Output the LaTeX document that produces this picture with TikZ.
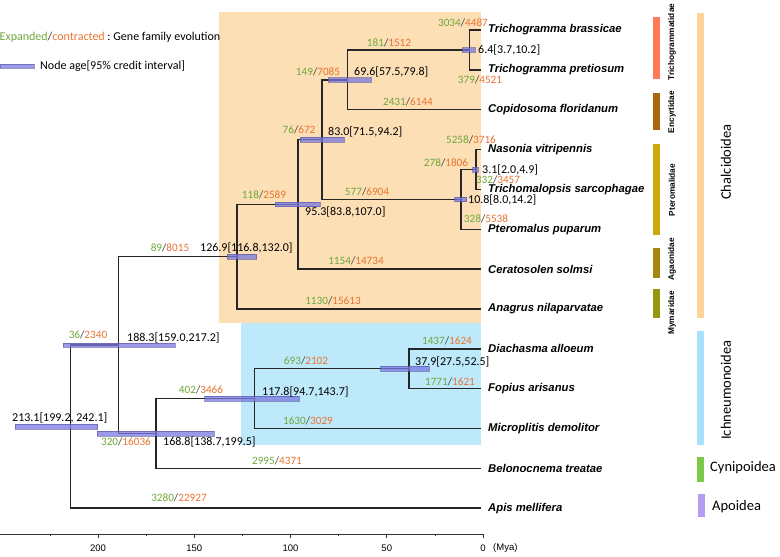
\documentclass[tikz,border=0pt]{standalone}
\usepackage{fontspec}
\setmainfont{Carlito}
\newfontfamily\arialfont{Liberation Sans}
\usetikzlibrary{positioning,calc}

\definecolor{expgreen}{HTML}{6EA83A}
\definecolor{conorange}{HTML}{E8732F}
\definecolor{chalfill}{HTML}{FDDFB6}
\definecolor{ichfill}{HTML}{BDE9FB}
\definecolor{barblue}{HTML}{7878E0}
\definecolor{trichcol}{HTML}{FF7A58}
\definecolor{encycol}{HTML}{A9680E}
\definecolor{pterocol}{HTML}{CCA90E}
\definecolor{agaocol}{HTML}{A4870F}
\definecolor{mymacol}{HTML}{97970F}
\definecolor{chalbar}{HTML}{FFD49A}
\definecolor{ichbar}{HTML}{A9E1FB}
\definecolor{cynicol}{HTML}{7CC84A}
\definecolor{apocol}{HTML}{B49CF2}

\newcommand\gfe[2]{\textcolor{expgreen}{#1}/\textcolor{conorange}{#2}}

\begin{document}
\begin{tikzpicture}[x=1pt,y=-1pt]
\tikzset{branch/.style = {draw=black!85, line width=1.5pt},
  agebox/.style = {fill=barblue, fill opacity=.75, draw=barblue!70!black, draw opacity=.6, line width=.4pt},
  species/.style = {anchor=west, inner sep=0pt, font=\arialfont\bfseries\itshape\fontsize{11.3}{13}\selectfont},
  gain/.style = {inner sep=0pt, text=black!75, font=\fontsize{11.2}{13}\selectfont},
  age/.style = {anchor=west, inner sep=0pt, font=\fontsize{12}{14}\selectfont},
  family/.style = {rotate=90, inner sep=0pt, font=\arialfont\bfseries\fontsize{8.3}{10}\selectfont},
  superfam/.style = {inner sep=0pt, font=\fontsize{14.5}{16}\selectfont},
  ticklab/.style = {inner sep=0pt, font=\arialfont\fontsize{9.5}{11}\selectfont}}
\def\zero{482}
\def\scl{1.93}
\newcommand\agebar[3]{\draw[agebox] ({\zero-\scl*#3},{#1-2.3}) rectangle ({\zero-\scl*#2},{#1+2.3});}
\useasboundingbox (0,0) rectangle (780,557);

\fill[chalfill] (219,12) rectangle (481,323);
\fill[ichfill] (241,323) rectangle (481,445);

\foreach \sp [count=\i from 0] in {Trichogramma brassicae,Trichogramma pretiosum,Copidosoma floridanum,Nasonia vitripennis,Trichomalopsis sarcophagae,Pteromalus puparum,Ceratosolen solmsi,Anagrus nilaparvatae,Diachasma alloeum,Fopius arisanus,Microplitis demolitor,Belonocnema treatae,Apis mellifera} {
  \coordinate (t\i) at (481,{30+39.85*\i});
  \node[species] (s\i) at (488,{30+39.85*\i}) {\sp};
}

\coordinate (n6) at ({\zero-\scl*6.4},49.93);
\coordinate (n70) at ({\zero-\scl*69.6},79.81);
\coordinate (n3) at ({\zero-\scl*3.1},169.48);
\coordinate (n11) at ({\zero-\scl*10.8},199.36);
\coordinate (n83) at ({\zero-\scl*83.0},139.59);
\coordinate (n95) at ({\zero-\scl*95.3},204.34);
\coordinate (n127) at ({\zero-\scl*126.9},256.65);
\coordinate (n38) at ({\zero-\scl*37.9},368.73);
\coordinate (n118) at ({\zero-\scl*117.8},398.61);
\coordinate (n169) at ({\zero-\scl*168.8},433.48);
\coordinate (n188) at ({\zero-\scl*188.3},345.07);
\coordinate (root) at ({\zero-\scl*213.1},426.63);

\draw[branch] (t0) -| (n6) |- (t1);
\draw[branch] (n6) -| (n70) |- (t2);
\draw[branch] (t3) -| (n3) |- (t4);
\draw[branch] (n3) -| (n11) |- (t5);
\draw[branch] (n70) -| (n83) |- (n11);
\draw[branch] (n83) -| (n95) |- (t6);
\draw[branch] (n95) -| (n127) |- (t7);
\draw[branch] (t8) -| (n38) |- (t9);
\draw[branch] (n38) -| (n118) |- (t10);
\draw[branch] (n118) -| (n169) |- (t11);
\draw[branch] (n127) -| (n188) |- (n169);
\draw[branch] (n188) -| (root) |- (t12);

\agebar{49.93}{3.7}{10.2}
\agebar{79.81}{57.5}{79.8}
\agebar{169.48}{2.0}{4.9}
\agebar{199.36}{8.0}{14.2}
\agebar{139.59}{71.5}{94.2}
\agebar{204.34}{83.8}{107.0}
\agebar{256.65}{116.8}{132.0}
\agebar{368.73}{27.5}{52.5}
\agebar{398.61}{94.7}{143.7}
\agebar{433.48}{138.7}{199.5}
\agebar{345.07}{159.0}{217.2}
\agebar{426.63}{199.2}{242.1}

\node[age] (a6) at (478,50) {6.4[3.7,10.2]};
\node[age] (a70) at (354,72) {69.6[57.5,79.8]};
\node[age] (a3) at (482,170) {3.1[2.0,4.9]};
\node[age] (a11) at (468,200) {10.8[8.0,14.2]};
\node[age] (a83) at (328,132) {83.0[71.5,94.2]};
\node[age] (a95) at (305,212) {95.3[83.8,107.0]};
\node[age] (a127) at (200,248) {126.9[116.8,132.0]};
\node[age] (a38) at (415,362) {37.9[27.5,52.5]};
\node[age] (a118) at (262,392) {117.8[94.7,143.7]};
\node[age] (a169) at (163,442) {168.8[138.7,199.5]};
\node[age] (a188) at (127,338) {188.3[159.0,217.2]};
\node[age] (aroot) at (12,418) {213.1[199.2, 242.1]};

\node[gain] (g0) at (463,23) {\gfe{3034}{4487}};
\node[gain] (g1) at (480,80) {\gfe{379}{4521}};
\node[gain] (g6) at (389,43) {\gfe{181}{1512}};
\node[gain] (g2) at (408,102) {\gfe{2431}{6144}};
\node[gain] (g70) at (318,72) {\gfe{149}{7085}};
\node[gain] (g3) at (471,140) {\gfe{5258}{3716}};
\node[gain] (g4) at (498,179.5) {\gfe{332}{3457}};
\node[gain] (g5) at (486,218.5) {\gfe{328}{5538}};
\node[gain] (g3n) at (446,163) {\gfe{278}{1806}};
\node[gain] (g11) at (367,192) {\gfe{577}{6904}};
\node[gain] (g83) at (299,130) {\gfe{76}{672}};
\node[gain] (g95) at (264,195) {\gfe{118}{2589}};
\node[gain] (gt6) at (356,261) {\gfe{1154}{14734}};
\node[gain] (gt7) at (333,301) {\gfe{1130}{15613}};
\node[gain] (g127) at (170,248) {\gfe{89}{8015}};
\node[gain] (g8) at (447,341) {\gfe{1437}{1624}};
\node[gain] (g9) at (450,382) {\gfe{1771}{1621}};
\node[gain] (g38) at (306,361) {\gfe{693}{2102}};
\node[gain] (g10) at (308,421) {\gfe{1630}{3029}};
\node[gain] (g118) at (201,390) {\gfe{402}{3466}};
\node[gain] (g11b) at (277,461) {\gfe{2995}{4371}};
\node[gain] (g169) at (126,442) {\gfe{320}{16036}};
\node[gain] (g188) at (88,335) {\gfe{36}{2340}};
\node[gain] (g12) at (179,498) {\gfe{3280}{22927}};

\node[gain, anchor=west, font=\fontsize{12}{14}\selectfont] (leg1) at (-.5,37) {\gfe{Expanded}{contracted}\textcolor{black}{\ :\ Gene family evolution}};
\draw[agebox] (0,63.7) rectangle (34,68.3);
\node[gain, anchor=west, text=black, font=\fontsize{12}{14}\selectfont] (leg2) at (40,66) {Node age[95\% credit interval]};

\fill[trichcol] (653,17) rectangle (660,79);
\fill[encycol] (653,93) rectangle (660,130);
\fill[pterocol] (653,144) rectangle (660,235);
\fill[agaocol] (653,248) rectangle (660,278);
\fill[mymacol] (653,289) rectangle (660,318);
\node[family] (f1) at (672,42) {Trichogrammatidae};
\node[family] (f2) at (672,112) {Encyrtidae};
\node[family] (f3) at (672,190) {Pteromalidae};
\node[family] (f4) at (672,259) {Agaonidae};
\node[family] (f5) at (672,313) {Mymaridae};

\fill[chalbar] (697,13) rectangle (704,318);
\fill[ichbar] (697,331) rectangle (704,445);
\fill[cynicol] (697,457) rectangle (704,482);
\fill[apocol] (698,494) rectangle (705,517);
\node[superfam, rotate=90] (c1) at (726,162) {Chalcidoidea};
\node[superfam, rotate=90] (c2) at (726,390) {Ichneumonoidea};
\node[superfam, anchor=west] (c3) at (710,468) {Cynipoidea};
\node[superfam, anchor=west] (c4) at (712,507) {Apoidea};

\draw[black!80, line width=.6pt] (0,534) -- (483,534);
\foreach \t in {0,50,100,150,200} {
  \draw[black!80, line width=.6pt] ({483-1.925*\t},534) -- ++(0,4);
  \node[ticklab] (k\t) at ({483-1.925*\t},548) {\t};
}
\foreach \t in {25,75,125,175,225}
  \draw[black!80, line width=.4pt] ({483-1.925*\t},534) -- ++(0,2);
\node[ticklab, anchor=west] (unit) at (493,548) {(Mya)};
\end{tikzpicture}
\end{document}
